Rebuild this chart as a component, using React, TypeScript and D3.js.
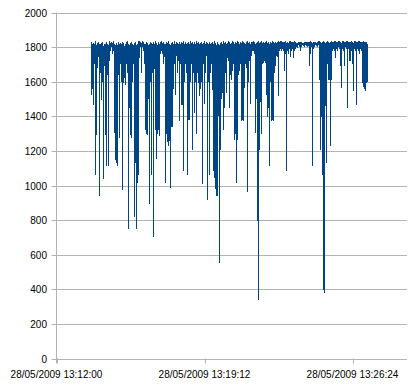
import React from "react";
import * as d3 from "d3";

const yTicks = [0, 200, 400, 600, 800, 1000, 1200, 1400, 1600, 1800, 2000];
const xTickLabels = ["28/05/2009 13:12:00", "28/05/2009 13:19:12", "28/05/2009 13:26:24"];
const seriesStart = "28/05/2009 13:13:41";
const sampleStepMs = 1459;

// per sample pair: local high then local low
const highs = [
  1830, 1815, 1825, 1820, 1835, 1810, 1825, 1830, 1815, 1820,
  1825, 1830, 1805, 1820, 1815, 1830, 1820, 1810, 1835, 1825,
  1830, 1825, 1835, 1820, 1810, 1825, 1815, 1830, 1820, 1825,
  1815, 1830, 1825, 1805, 1820, 1830, 1835, 1820, 1815, 1825,
  1830, 1820, 1810, 1825, 1830, 1815, 1820, 1835, 1835, 1830,
  1825, 1835, 1830, 1820, 1815, 1830, 1825, 1810, 1820, 1830,
  1825, 1815, 1830, 1820, 1835, 1825, 1810, 1830, 1820, 1830,
  1835, 1825, 1830, 1820, 1815, 1830, 1825, 1835, 1820, 1810,
  1825, 1830, 1820, 1835, 1815, 1830, 1825, 1820, 1830, 1815,
  1830, 1825, 1835, 1820, 1830, 1815, 1825, 1830, 1820, 1835,
  1825, 1830, 1815, 1830, 1820, 1835, 1825, 1830, 1820, 1825,
  1830, 1815, 1825, 1835, 1820, 1830, 1825, 1820, 1830, 1815,
  1825, 1830, 1820, 1835, 1825, 1815, 1830, 1820, 1810, 1825,
  1830, 1820, 1835, 1825, 1830, 1815, 1825, 1835, 1830, 1820,
  1825, 1835, 1830, 1820, 1830, 1825, 1835, 1830, 1820, 1830,
  1825, 1835, 1830, 1825, 1820, 1830, 1835, 1825, 1830, 1820,
  1830, 1825, 1835, 1830, 1820, 1825, 1830, 1835, 1825, 1830,
  1835, 1825, 1830, 1820, 1830, 1835, 1825, 1830, 1820, 1830,
  1825, 1835, 1830, 1825, 1830, 1820, 1830, 1835, 1825, 1830,
  1835, 1830, 1825, 1830, 1835, 1825, 1830, 1820, 1830, 1835,
  1830, 1825, 1830, 1835, 1830, 1825, 1820, 1825, 1830, 1825,
  1830, 1825, 1820, 1825, 1830, 1825, 1830, 1825, 1830, 1835,
  1830, 1825, 1830, 1825, 1830, 1820, 1825, 1830, 1835, 1830,
  1825, 1830, 1835, 1830, 1825, 1830, 1835, 1830, 1825, 1830,
  1835, 1830, 1825, 1830, 1835, 1830, 1825, 1830, 1835, 1830,
  1825, 1830, 1835, 1830, 1825, 1830, 1835, 1830, 1825, 1830,
  1835, 1830, 1825, 1830, 1835, 1830, 1825, 1830, 1835, 1830,
  1825, 1830, 1835, 1830, 1825, 1830, 1820,
];

const lows = [
  1525, 1560, 1467, 1700, 1060, 1290, 1680, 1740, 938, 1650,
  1492, 1600, 1038, 1700, 1290, 1112, 1640, 1112, 1720, 1780,
  1800, 1760, 1780, 1304, 1150, 1130, 1112, 1640, 1275, 1700,
  1600, 973, 1590, 1620, 1580, 1700, 1650, 750, 1450, 1290,
  1275, 1600, 1700, 819, 1130, 750, 1015, 1060, 1780, 1800,
  1650, 1800, 1780, 1700, 1320, 1300, 1290, 1500, 894, 1600,
  1060, 1650, 704, 1700, 1320, 1154, 1300, 1320, 1285, 1760,
  1780, 1760, 1700, 1740, 1015, 1300, 1250, 1230, 1260, 983,
  1340, 1340, 1560, 1700, 1525, 1750, 1650, 1720, 1370, 1700,
  1467, 1467, 1083, 1600, 1700, 1650, 1060, 1380, 1380, 1600,
  1700, 1204, 1650, 1420, 1600, 1300, 1650, 1590, 1515, 1560,
  1600, 1011, 1700, 1473, 1650, 1750, 915, 1600, 1060, 1650,
  1700, 1550, 1083, 1045, 980, 940, 942, 1400, 554, 1204,
  1500, 1535, 1320, 1450, 1650, 1535, 1735, 1720, 1448, 1640,
  1610, 1660, 1700, 1265, 1300, 1015, 1265, 1640, 1660, 1700,
  1370, 1380, 1370, 1565, 1700, 1680, 962, 1600, 1720, 1473,
  1750, 1780, 1780, 1760, 1304, 1500, 794, 338, 1204, 1480,
  1300, 1700, 1710, 1720, 1710, 1525, 1396, 1450, 1112, 1600,
  1370, 1380, 1370, 1650, 1690, 1750, 1740, 1520, 1780, 1790,
  1780, 1790, 1780, 1660, 1760, 1083, 1780, 1760, 1790, 1740,
  1780, 1790, 1735, 1780, 1790, 1800, 1795, 1810, 1800, 1780,
  1800, 1810, 1805, 1800, 1810, 1805, 1800, 1805, 1690, 1760,
  1800, 1112, 1790, 1800, 1810, 1805, 1800, 1810, 1610, 1205,
  1396, 1063, 395, 380, 1458, 1130, 1700, 1610, 1610, 1227,
  1610, 1780, 1790, 1780, 1735, 1790, 1780, 1800, 1790, 1690,
  1565, 1790, 1780, 1690, 1800, 1790, 1448, 1790, 1720, 1720,
  1780, 1700, 1545, 1790, 1780, 1467, 1790, 1780, 1760, 1790,
  1780, 1590, 1570, 1560, 1545, 1590, 1600,
];

const parse = d3.timeParse("%d/%m/%Y %H:%M:%S");

export default function App() {
  const width = 408;
  const height = 390;
  const left = 56.5;
  const right = 407;
  const top = 12.5;
  const bottom = 358.5;

  const tickDates = xTickLabels.map((s) => parse(s) as Date);
  const x = d3
    .scaleTime()
    .domain([tickDates[0], tickDates[1]])
    .range([left, 204.5]);
  const y = d3.scaleLinear().domain([0, 2000]).range([bottom, top]);

  const start = (parse(seriesStart) as Date).getTime();
  const points: { t: Date; v: number }[] = [];
  highs.forEach((h, i) => {
    points.push({ t: new Date(start + 2 * i * sampleStepMs), v: h });
    points.push({ t: new Date(start + (2 * i + 1) * sampleStepMs), v: lows[i] });
  });

  const line = d3
    .line<{ t: Date; v: number }>()
    .x((d) => x(d.t))
    .y((d) => y(d.v));

  const grid = "#b3b3b3";
  const font = "'Liberation Sans', Arial, sans-serif";

  return (
    <svg
      width={width}
      height={height}
      style={{ position: "absolute", left: 0, top: 0, background: "#fff" }}
    >
      <rect x={0} y={0} width={width} height={height} fill="#fff" />
      {yTicks.map((v) => (
        <g key={v}>
          <line x1={left} x2={right} y1={Math.round(y(v)) + 0.5} y2={Math.round(y(v)) + 0.5} stroke={grid} strokeWidth={1} />
          <line x1={left - 5} x2={left} y1={Math.round(y(v)) + 0.5} y2={Math.round(y(v)) + 0.5} stroke={grid} strokeWidth={1} />
          <text
            x={47}
            y={Math.round(y(v)) + 4}
            textAnchor="end"
            fontFamily={font}
            fontSize={10}
            fill="#000"
          >
            {v}
          </text>
        </g>
      ))}
      <line x1={left} x2={left} y1={top} y2={bottom + 5} stroke={grid} strokeWidth={1} />
      {tickDates.map((d, i) => (
        <g key={i}>
          <line
            x1={Math.round(x(d)) + 0.5}
            x2={Math.round(x(d)) + 0.5}
            y1={bottom}
            y2={bottom + 5}
            stroke={grid}
            strokeWidth={1}
          />
          <text
            x={x(d)}
            y={378}
            textAnchor="middle"
            fontFamily={font}
            fontSize={10}
            fill="#000"
          >
            {xTickLabels[i]}
          </text>
        </g>
      ))}
      <path
        d={line(points) || ""}
        fill="none"
        stroke="#004586"
        strokeWidth={1}
        shapeRendering="crispEdges"
      />
    </svg>
  );
}
